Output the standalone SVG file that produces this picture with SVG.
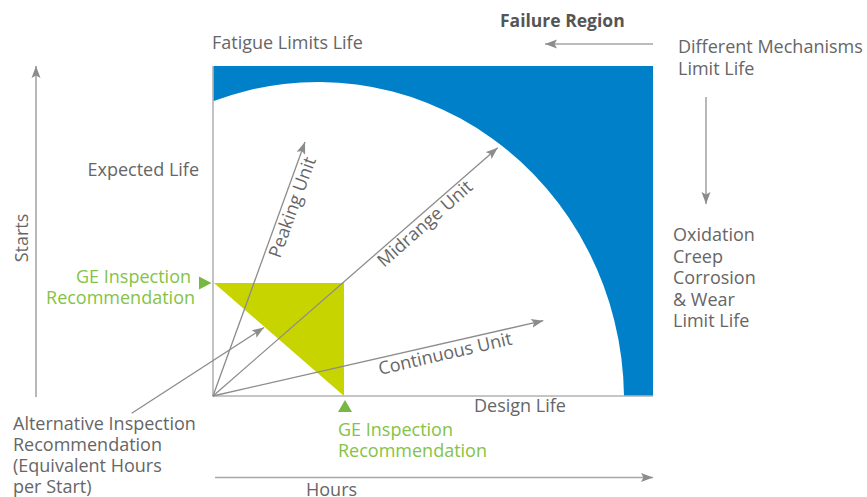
<svg xmlns="http://www.w3.org/2000/svg" width="867" height="497" viewBox="0 0 867 497">
  <style>
    text { font-family: "Open Sans", "Liberation Sans", sans-serif; font-size: 18px; fill: #666; }
    .bold { font-weight: bold; fill: #555; font-size: 17.5px; }
    .green { fill: #84c346; }
    .axis { stroke: #b3b3b3; stroke-width: 1.6; fill: none; }
    .arrow { stroke: #8c8c8c; stroke-width: 1.3; fill: none; marker-end: url(#head); }
    .guide { stroke: #a6a6a6; stroke-width: 1.6; fill: none; marker-end: url(#head); }
  </style>
  <defs>
    <marker id="head" markerUnits="userSpaceOnUse" markerWidth="13" markerHeight="10" refX="12" refY="5" orient="auto">
      <path d="M0,0.5 L12,5 L0,9.5 L2.5,5 z" fill="#8c8c8c"/>
    </marker>
  </defs>

  <!-- failure region: blue frame with the safe life envelope cut out -->
  <g id="failure-region">
    <path d="M213,66 H653 V396 H624 A306,318 0 0 0 213,101.3 Z" fill="#0080c8"/>
  </g>

  <!-- inspection zone -->
  <g id="inspection-zone">
    <polygon points="214,283 344,283 344,396" fill="#c8d400"/>
  </g>

  <!-- plot frame -->
  <g id="frame">
    <polyline class="axis" points="213,66 213,396 653,396"/>
  </g>

  <g id="connectors">
    <!-- axes -->
    <line class="guide" x1="36" y1="397" x2="36" y2="66"/>
    <line class="guide" x1="215" y1="477.5" x2="653" y2="477.5"/>
    <line class="guide" x1="653" y1="44" x2="545" y2="44"/>
    <line class="guide" x1="706" y1="97" x2="706" y2="204"/>
    <!-- operating profiles -->
    <line class="arrow" x1="213" y1="396" x2="305" y2="142"/>
    <line class="arrow" x1="213" y1="396" x2="497.7" y2="147.7"/>
    <line class="arrow" x1="213" y1="396" x2="543.3" y2="320.7"/>
    <line class="arrow" x1="131.7" y1="413.3" x2="264" y2="327.5"/>
  </g>

  <!-- inspection markers -->
  <g id="marker-starts">
    <polygon points="199,276.5 211.5,283 199,289.5" fill="#76b843"/>
  </g>
  <g id="marker-hours">
    <polygon points="338,412 345,400 352,412" fill="#76b843"/>
  </g>

  <!-- labels -->
  <g id="label-failure"><text class="bold" x="500" y="27">Failure Region</text></g>
  <g id="label-fatigue"><text x="212" y="49">Fatigue Limits Life</text></g>
  <g id="label-mechanisms">
    <text x="678" y="53">Different Mechanisms</text>
    <text x="678" y="75">Limit Life</text>
  </g>
  <g id="label-oxidation">
    <text x="673" y="241">Oxidation</text>
    <text x="673" y="262.5">Creep</text>
    <text x="673" y="284">Corrosion</text>
    <text x="673" y="305.5">&amp; Wear</text>
    <text x="673" y="327">Limit Life</text>
  </g>
  <g id="label-expected"><text x="199" y="176" text-anchor="end">Expected Life</text></g>
  <g id="label-starts"><text transform="translate(28,238) rotate(-90)" text-anchor="middle">Starts</text></g>
  <g id="label-ge-starts">
    <text class="green" x="191" y="283" text-anchor="end">GE Inspection</text>
    <text class="green" x="195" y="304" text-anchor="end">Recommendation</text>
  </g>
  <g id="label-ge-hours">
    <text class="green" x="338" y="436">GE Inspection</text>
    <text class="green" x="338" y="457">Recommendation</text>
  </g>
  <g id="label-design"><text x="474" y="412">Design Life</text></g>
  <g id="label-hours"><text x="306" y="496">Hours</text></g>
  <g id="label-alternative">
    <text x="13" y="430">Alternative Inspection</text>
    <text x="13" y="451">Recommendation</text>
    <text x="13" y="472">(Equivalent Hours</text>
    <text x="13" y="493">per Start)</text>
  </g>
  <g id="label-peaking"><text transform="translate(280,259) rotate(-70)">Peaking Unit</text></g>
  <g id="label-midrange"><text transform="translate(384,268) rotate(-41.5)">Midrange Unit</text></g>
  <g id="label-continuous"><text transform="translate(380,375) rotate(-13)">Continuous Unit</text></g>
</svg>
